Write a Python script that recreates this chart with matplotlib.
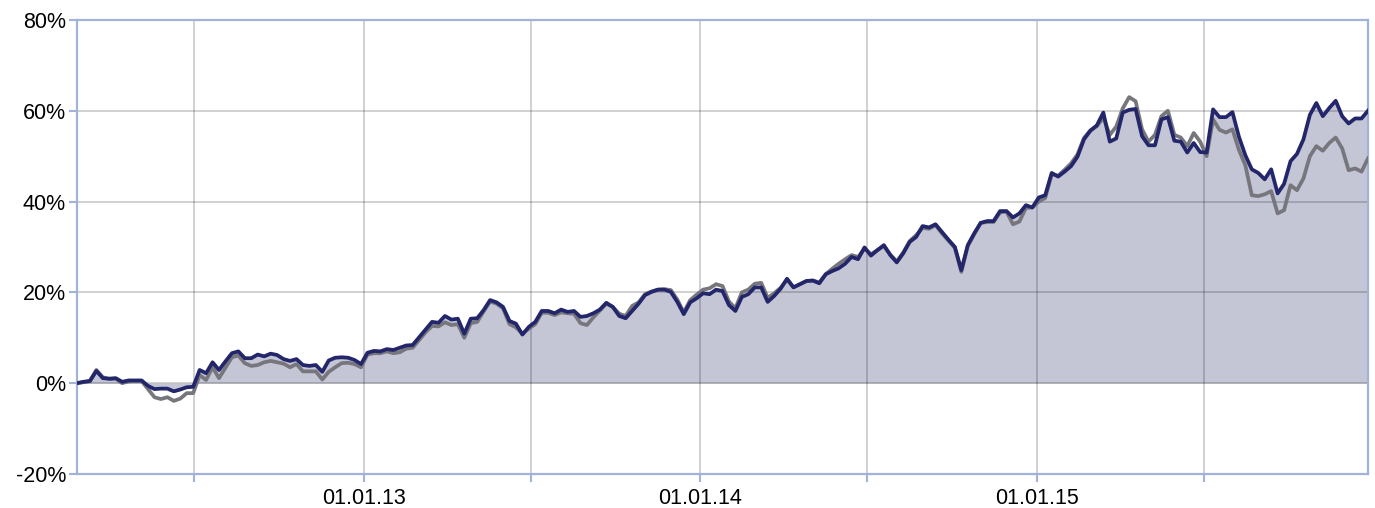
import numpy as np
import pandas as pd
import matplotlib
matplotlib.use('Agg')
import matplotlib.pyplot as plt
import matplotlib.dates as mdates
from matplotlib.ticker import FuncFormatter, MultipleLocator

# weekly performance in %
fund = [0.0, 0.3, 0.5, 2.7, 1.1, 1.0, 1.1, 0.3, 0.6, 0.6,
        0.6, -0.6, -1.3, -1.2, -1.2, -1.8, -1.4, -0.9, -0.8, 2.9,
        2.2, 4.6, 2.9, 4.8, 6.6, 7.0, 5.5, 5.5, 6.3, 5.9,
        6.5, 6.2, 5.3, 4.9, 5.3, 4.0, 3.8, 4.0, 2.5, 5.0,
        5.6, 5.7, 5.6, 5.1, 4.2, 6.7, 7.1, 7.0, 7.5, 7.3,
        7.8, 8.3, 8.4, 10.1, 11.8, 13.5, 13.3, 14.8, 14.0, 14.2,
        10.9, 14.2, 14.3, 16.1, 18.3, 17.8, 16.8, 13.7, 13.1, 10.7,
        12.4, 13.5, 15.9, 15.9, 15.4, 16.2, 15.7, 15.9, 14.6, 14.8,
        15.4, 16.2, 17.7, 16.8, 14.8, 14.3, 15.9, 17.5, 19.4, 20.1,
        20.6, 20.6, 20.1, 17.9, 15.2, 17.8, 18.7, 19.8, 19.6, 20.6,
        20.3, 17.2, 15.9, 19.0, 19.6, 21.1, 21.1, 17.9, 19.2, 20.8,
        23.0, 21.1, 21.8, 22.5, 22.6, 22.0, 24.0, 24.7, 25.3, 26.3,
        27.8, 27.3, 29.9, 28.1, 29.3, 30.4, 28.2, 26.6, 28.6, 31.1,
        32.2, 34.6, 34.3, 35.0, 33.3, 31.6, 30.0, 24.9, 30.4, 33.0,
        35.3, 35.7, 35.7, 37.9, 37.9, 36.5, 37.4, 39.2, 38.7, 40.9,
        41.4, 46.3, 45.5, 46.6, 47.8, 49.9, 53.7, 55.6, 56.8, 59.6,
        53.2, 53.9, 59.6, 60.2, 60.4, 54.4, 52.4, 52.4, 58.1, 58.6,
        53.4, 53.2, 50.8, 52.9, 50.9, 50.8, 60.3, 58.6, 58.6, 59.7,
        54.3, 50.2, 47.1, 46.3, 44.9, 47.1, 41.8, 43.9, 48.9, 50.5,
        53.7, 59.1, 61.7, 58.8, 60.6, 62.2, 58.8, 57.2, 58.3, 58.3,
        60.0]

benchmark = [0.0, 0.2, 0.4, 2.9, 1.3, 0.9, 1.0, 0.0, 0.4, 0.5,
             0.5, -1.3, -3.1, -3.5, -3.1, -3.9, -3.4, -2.2, -2.2, 1.8,
             0.7, 3.5, 1.1, 3.4, 5.7, 6.1, 4.4, 3.8, 4.0, 4.6,
             4.9, 4.6, 4.3, 3.5, 4.2, 2.6, 2.6, 2.6, 0.8, 2.5,
             3.5, 4.4, 4.5, 4.2, 3.5, 6.3, 6.6, 6.6, 7.0, 6.6,
             6.8, 7.6, 7.8, 9.5, 11.2, 12.6, 12.5, 13.4, 12.8, 13.0,
             10.0, 13.2, 13.5, 15.8, 18.0, 17.5, 16.5, 13.0, 12.3, 10.9,
             12.0, 13.0, 15.5, 15.5, 15.0, 15.6, 15.4, 15.3, 13.2, 12.8,
             14.5, 16.0, 17.5, 16.8, 15.3, 14.8, 17.0, 17.8, 19.6, 20.2,
             20.6, 20.7, 20.5, 18.4, 15.6, 18.3, 19.5, 20.6, 20.9, 21.8,
             21.4, 18.0, 16.5, 20.0, 20.6, 21.9, 22.1, 18.8, 19.8, 21.0,
             22.8, 21.1, 21.8, 22.5, 22.6, 22.2, 24.0, 25.2, 26.3, 27.3,
             28.2, 27.8, 29.6, 28.4, 29.3, 30.2, 28.3, 26.8, 28.8, 31.3,
             32.6, 34.2, 34.0, 34.8, 33.0, 31.4, 29.8, 24.5, 30.2, 32.8,
             35.3, 35.5, 35.5, 37.6, 37.8, 35.0, 35.6, 38.6, 38.7, 40.0,
             40.8, 46.0, 45.7, 47.0, 48.4, 50.4, 54.0, 55.7, 56.6, 58.5,
             54.7, 56.5, 60.5, 63.0, 62.1, 55.9, 53.2, 54.7, 58.8, 60.0,
             54.7, 54.1, 52.2, 55.1, 53.2, 50.0, 58.1, 55.8, 55.2, 55.9,
             51.4, 48.0, 41.4, 41.2, 41.6, 42.3, 37.4, 38.1, 43.6, 42.5,
             45.1, 50.0, 52.2, 51.2, 52.9, 54.1, 51.7, 46.9, 47.3, 46.6,
             49.5]

dates = pd.date_range('2012-02-25', periods=len(fund), freq='7D')
tick_dates = pd.to_datetime(['2012-07-01', '2013-01-01', '2013-07-01', '2014-01-01',
                             '2014-07-01', '2015-01-01', '2015-07-01'])
tick_labels = ['', '01.01.13', '', '01.01.14', '', '01.01.15', '']

plt.rcParams['font.family'] = ['Liberation Sans', 'DejaVu Sans']

fig = plt.figure(figsize=(13.75, 5.08), dpi=100)
ax = fig.add_axes([0.056, 0.067, 0.9389, 0.8937])

navy = '#23266a'
frame = '#a2b3da'

ax.fill_between(dates, fund, 0, color='#c4c6d6', linewidth=0, zorder=1)
ax.plot(dates, benchmark, color='#76767c', linewidth=2.7, zorder=3)
ax.plot(dates, fund, color=navy, linewidth=2.7, zorder=4)

ax.set_xlim(dates[0], dates[-1])
ax.set_ylim(-20, 80)
ax.yaxis.set_major_locator(MultipleLocator(20))
ax.yaxis.set_major_formatter(FuncFormatter(lambda v, p: '%d%%' % v))
ax.set_xticks(tick_dates)
ax.set_xticklabels(tick_labels)

ax.set_axisbelow('line')
ax.grid(True, color='black', alpha=0.18, linewidth=1.4)

for s in ax.spines.values():
    s.set_color(frame)
    s.set_linewidth(1.6)

ax.tick_params(axis='both', colors=frame, labelcolor='black', labelsize=15.5,
               length=6, width=1.5)
ax.tick_params(axis='x', pad=4)
ax.tick_params(axis='y', pad=2)

fig.savefig('out.png', dpi=100)
